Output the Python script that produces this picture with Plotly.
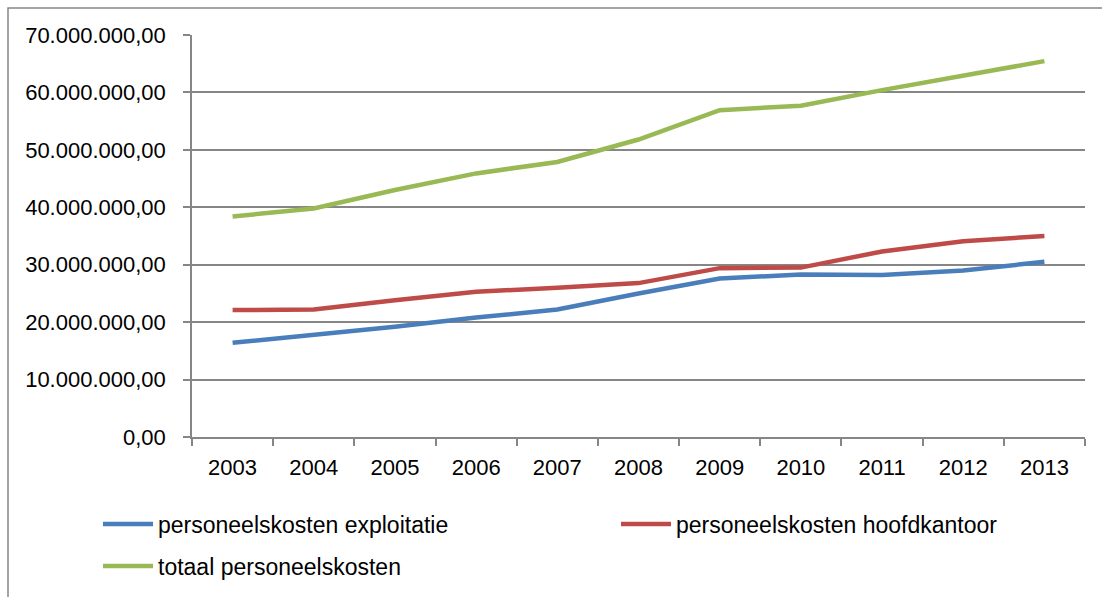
import plotly.graph_objects as go

years = ["2003", "2004", "2005", "2006", "2007", "2008", "2009", "2010", "2011", "2012", "2013"]
exploitatie = [16.4e6, 17.8e6, 19.2e6, 20.8e6, 22.2e6, 25.0e6, 27.6e6, 28.3e6, 28.2e6, 29.0e6, 30.5e6]
hoofdkantoor = [22.1e6, 22.2e6, 23.8e6, 25.3e6, 26.0e6, 26.8e6, 29.4e6, 29.5e6, 32.3e6, 34.1e6, 35.0e6]
totaal = [38.4e6, 39.8e6, 43.0e6, 45.9e6, 47.9e6, 51.8e6, 56.9e6, 57.7e6, 60.4e6, 62.9e6, 65.45e6]

names = ["personeelskosten exploitatie", "personeelskosten hoofdkantoor", "totaal personeelskosten"]
colors = ["#4A7EBB", "#BE4B48", "#98B954"]
legend_ids = ["legend", "legend2", "legend3"]

FONT = "Liberation Sans, Arial, sans-serif"

fig = go.Figure()
for name, vals, col, lg in zip(names, [exploitatie, hoofdkantoor, totaal], colors, legend_ids):
    fig.add_trace(go.Scatter(x=years, y=vals, mode="lines", name=name, legend=lg,
                             line=dict(color=col, width=4.5)))

W, H = 1102, 597
L, R, T, B = 192, 17, 35, 160
pw = W - L - R
ph = H - T - B

leg_common = dict(orientation="h", xanchor="left", yanchor="middle",
                  font=dict(family=FONT, size=23, color="#000000"),
                  bgcolor="rgba(0,0,0,0)", itemwidth=50)

fig.update_layout(
    width=W, height=H,
    margin=dict(l=L, r=R, t=T, b=B, autoexpand=False),
    paper_bgcolor="white", plot_bgcolor="white",
    separators=",.",
    font=dict(family=FONT, size=20, color="#000000"),
    showlegend=True,
    legend=dict(x=(98 - L) / pw, y=(437 - 524) / ph, **leg_common),
    legend2=dict(x=(616 - L) / pw, y=(437 - 524) / ph, **leg_common),
    legend3=dict(x=(98 - L) / pw, y=(437 - 566) / ph, **leg_common),
    xaxis=dict(type="category", range=[-0.5, 10.5], showgrid=False, showline=True,
               linecolor="#868686", linewidth=1.5, ticks="outside",
               tickson="boundaries", ticklen=7, tickcolor="#868686", tickwidth=1.5,
               ticklabelstandoff=10, automargin=False,
               tickfont=dict(family=FONT, size=22, color="#000000")),
    yaxis=dict(range=[0, 70e6], dtick=10e6, tick0=0, tickformat=",.2f",
               showgrid=True, gridcolor="#868686", gridwidth=1.5,
               showline=True, linecolor="#868686", linewidth=1.5,
               ticks="outside", ticklen=7, tickcolor="#868686", tickwidth=1.5,
               zeroline=False, ticklabelstandoff=13, automargin=False,
               tickfont=dict(family=FONT, size=22, color="#000000")),
)

# outer chart border
fig.add_shape(type="rect", xref="paper", yref="paper",
              x0=(8 - L) / pw, x1=(1120 - L) / pw,
              y0=(437 - 620) / ph, y1=(437 - 8) / ph,
              line=dict(color="#868686", width=1.5), fillcolor="rgba(0,0,0,0)",
              layer="below")

fig.write_html("out.html", config={"displayModeBar": False},
               post_script="document.body.style.margin='0';")
